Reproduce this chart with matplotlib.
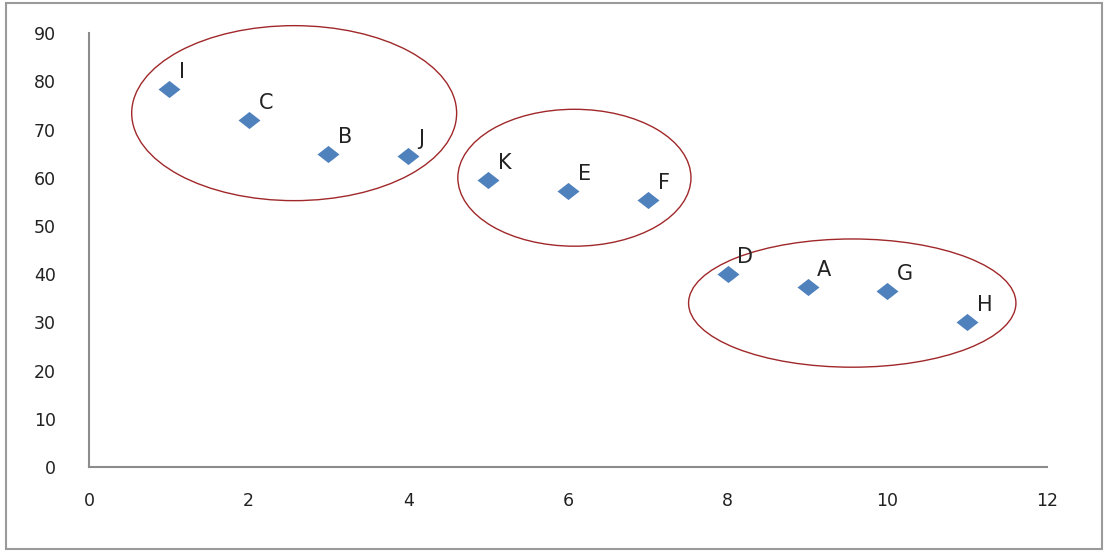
import matplotlib.pyplot as plt
from matplotlib.patches import Ellipse, Rectangle

# Scatter values
labels = ["I", "C", "B", "J", "K", "E", "F", "D", "A", "G", "H"]
x_vals = [1, 2, 3, 4, 5, 6, 7, 8, 9, 10, 11]
y_vals = [78.5, 72, 65, 64.5, 59.5, 57.2, 55.3, 40, 37.3, 36.5, 30]

# cluster outlines: centre x, centre y, width, height (data units)
groups_cx = [2.57, 6.08, 9.56]
groups_cy = [73.4, 60.0, 34.0]
groups_w = [4.07, 2.92, 4.10]
groups_h = [36.3, 28.4, 26.6]

fig = plt.figure(figsize=(11.08, 5.52), dpi=100)
ax = fig.add_axes([0.0803, 0.154, 0.8647, 0.786])

# slightly flattened diamond like the Excel marker
diamond = [(-1, 0), (0, 0.78), (1, 0), (0, -0.78), (-1, 0)]
ax.scatter(x_vals, y_vals, marker=diamond, s=250, color="#4F81BD",
           linewidths=0, zorder=3)

for lab, xv, yv in zip(labels, x_vals, y_vals):
    ax.annotate(lab, (xv, yv), xytext=(7, 5), textcoords="offset points",
                ha="left", va="bottom", fontsize=15, color="#222222")

for cx, cy, w, h in zip(groups_cx, groups_cy, groups_w, groups_h):
    ax.add_patch(Ellipse((cx, cy), w, h, fill=False, edgecolor="#A0282A",
                         linewidth=1.0, zorder=2, clip_on=False))

ax.set_xlim(0, 12)
ax.set_ylim(0, 90)
ax.set_xticks(range(0, 13, 2))
ax.set_yticks(range(0, 91, 10))
ax.tick_params(length=0, labelsize=12.5, colors="#222222")
ax.tick_params(axis="x", pad=18)
ax.tick_params(axis="y", pad=24)

for side in ["top", "right"]:
    ax.spines[side].set_visible(False)
for side in ["left", "bottom"]:
    ax.spines[side].set_color("#8C8C8C")
    ax.spines[side].set_linewidth(1.5)

# grey frame around the whole chart
fig.patches.append(Rectangle((0.005, 0.006), 0.99, 0.988, transform=fig.transFigure,
                             fill=False, edgecolor="#9A9A9A", linewidth=1.5))

plt.savefig("out.png", dpi=100)
